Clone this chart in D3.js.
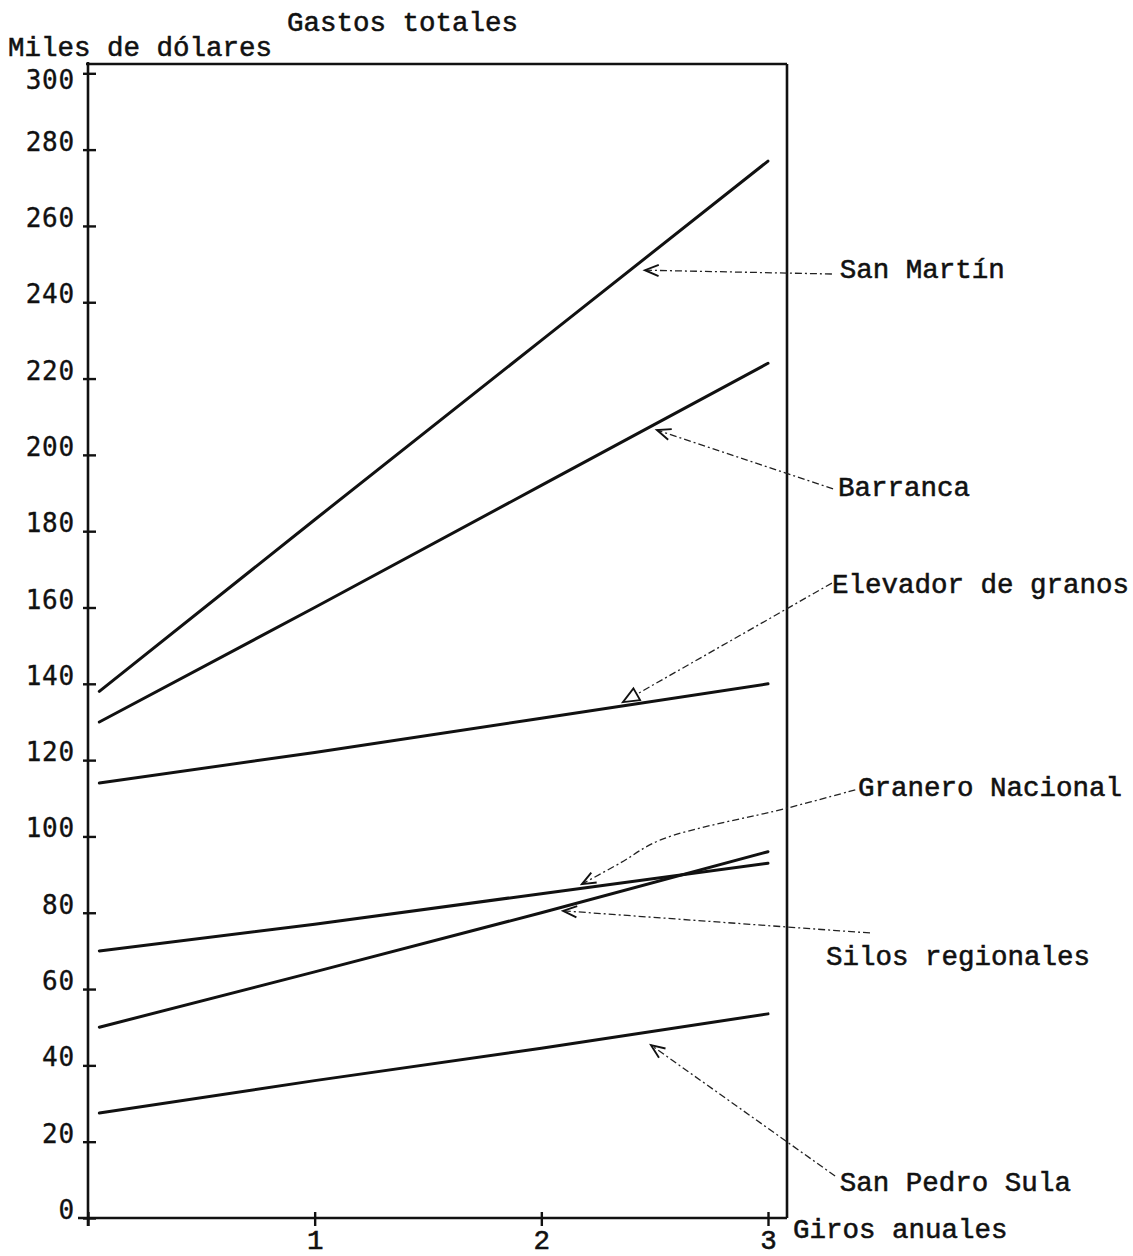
<!DOCTYPE html>
<html>
<head>
<meta charset="utf-8">
<script src="https://cdn.jsdelivr.net/npm/d3@7"></script>
<style>
  body { margin: 0; background: #fff; }
  svg { display: block; background: #fff; }
  text { font-family: "Liberation Mono", "DejaVu Sans Mono", monospace; fill: #111; stroke: #111; stroke-width: 0.55px; }
</style>
</head>
<body>
<svg id="chart" width="1133" height="1256"></svg>
<script>
// ---------------- DATA ----------------
const giros = [0.05, 1, 2, 3];                 // x positions of the readings (Giros anuales)
const sanMartin = [138, 183, 230, 277];         // thousand dollars
const barranca  = [130, 160, 192, 224];
const elevador  = [114, 122, 131, 140];
const granero   = [70, 77, 85, 93];
const silos     = [50, 64.5, 80, 96];
const sanPedro  = [27.5, 36, 44.5, 53.5];
const seriesNames = ["San Martín", "Barranca", "Elevador de granos", "Granero Nacional", "Silos regionales", "San Pedro Sula"];
const seriesValues = [sanMartin, barranca, elevador, granero, silos, sanPedro];
const yTicks = [0, 20, 40, 60, 80, 100, 120, 140, 160, 180, 200, 220, 240, 260, 280, 300];
const xTicks = [0, 1, 2, 3];
const xTickLabels = ["", "1", "2", "3"];
const titleText = "Gastos totales";
const yTitle = "Miles de dólares";
const xTitle = "Giros anuales";

// annotation leaders in data units: [giros, value] from label to arrow tip
const leaderSanMartin = [[3.282, 247.4], [2.457, 248.4]];
const leaderBarranca  = [[3.287, 191.1], [2.510, 206.5]];
const leaderElevador  = [[3.282, 166.4], [2.360, 135.2]];
const leaderGranero   = [[3.385, 112.2], [3.090, 107.5], [2.526, 99.1], [2.350, 93.1], [2.179, 87.5]];
const leaderSilos     = [[3.450, 74.7], [2.096, 80.5]];
const leaderSanPedro  = [[3.296, 11.0], [2.484, 45.3]];
const leaders = [leaderSanMartin, leaderBarranca, leaderElevador, leaderGranero, leaderSilos, leaderSanPedro];
const arrowKinds = ["chevron", "chevron", "triangle", "chevron", "chevron", "chevron"];
// label anchors [giros, value] (left edge, baseline)
const labelAnchors = [[3.317, 246.3], [3.309, 189.2], [3.282, 163.8], [3.397, 110.6], [3.256, 66.3], [3.317, 7.1]];

// ---------------- LAYOUT ----------------
const svg = d3.select("#chart");
const x = d3.scaleLinear().domain([0, 3]).range([88, 768]);
const y = d3.scaleLinear().domain([0, 300]).range([1218, 73.3]);
const frameTop = 64, frameRight = 787;
const FS = 27.5;

const defs = svg.append("defs");
defs.append("marker").attr("id", "chevron")
  .attr("markerUnits", "userSpaceOnUse").attr("markerWidth", 20).attr("markerHeight", 20)
  .attr("viewBox", "-14 -8 16 16").attr("refX", 0).attr("refY", 0).attr("orient", "auto")
  .append("path").attr("d", "M-11,-4.5 L0,0 L-11,4.5").attr("fill", "none")
  .attr("stroke", "#111").attr("stroke-width", 1.5);
defs.append("marker").attr("id", "triangle")
  .attr("markerUnits", "userSpaceOnUse").attr("markerWidth", 22).attr("markerHeight", 22)
  .attr("viewBox", "-16 -9 18 18").attr("refX", 0).attr("refY", 0).attr("orient", "auto")
  .append("path").attr("d", "M-13,-5.5 L0,0 L-13,5.5 Z").attr("fill", "#fff")
  .attr("stroke", "#111").attr("stroke-width", 1.5);

// frame / axes lines
const frame = svg.append("g").attr("stroke", "#111").attr("stroke-width", 2.6).attr("fill", "none");
frame.append("line").attr("x1", x(0)).attr("x2", x(0)).attr("y1", frameTop - 2).attr("y2", y(0) + 8);
frame.append("line").attr("x1", x(0) - 2).attr("x2", frameRight).attr("y1", frameTop).attr("y2", frameTop);
frame.append("line").attr("x1", frameRight).attr("x2", frameRight).attr("y1", frameTop).attr("y2", y(0));
frame.append("line").attr("x1", x(0) - 10).attr("x2", frameRight).attr("y1", y(0)).attr("y2", y(0));

// y axis: labels + small crossing ticks
const yAxisL = d3.axisLeft(y).tickValues(yTicks).tickSize(5).tickPadding(8).tickFormat(d3.format("d"));
const yAxisR = d3.axisRight(y).tickValues(yTicks).tickSize(8).tickFormat("");
const gyL = svg.append("g").attr("transform", `translate(${x(0)},0)`).call(yAxisL);
const gyR = svg.append("g").attr("transform", `translate(${x(0)},0)`).call(yAxisR);
[gyL, gyR].forEach(g => {
  g.select(".domain").remove();
  g.selectAll(".tick line").attr("stroke", "#111").attr("stroke-width", 2.4);
});
gyL.selectAll(".tick text")
  .style("font-family", "'DejaVu Sans Mono', monospace")
  .style("font-size", "26px").style("letter-spacing", "0.8px")
  .style("stroke-width", "0.35px")
  .attr("dy", d => d === 300 ? "0.6em" : "0.02em");

// x axis: crossing ticks + labels
const xAxisB = d3.axisBottom(x).tickValues(xTicks).tickSize(8).tickPadding(14)
  .tickFormat((d, i) => xTickLabels[i]);
const xAxisT = d3.axisTop(x).tickValues(xTicks).tickSize(6).tickFormat("");
const gxB = svg.append("g").attr("transform", `translate(0,${y(0)})`).call(xAxisB);
const gxT = svg.append("g").attr("transform", `translate(0,${y(0)})`).call(xAxisT);
[gxB, gxT].forEach(g => {
  g.select(".domain").remove();
  g.selectAll(".tick line").attr("stroke", "#111").attr("stroke-width", 2.4);
});
gxB.selectAll(".tick text").style("font-size", FS + "px").attr("y", 31).attr("dy", "0");

// data lines
const line = d3.line().x((d, i) => x(giros[i])).y(d => y(d));
svg.append("g").selectAll("path.series").data(seriesValues).join("path")
  .attr("class", "series")
  .attr("d", d => line(d))
  .attr("fill", "none").attr("stroke", "#111").attr("stroke-width", 3)
  .attr("stroke-linecap", "round");

// leaders
const leaderLine = d3.line().x(d => x(d[0])).y(d => y(d[1])).curve(d3.curveCatmullRom.alpha(0.5));
svg.append("g").selectAll("path.leader").data(leaders).join("path")
  .attr("class", "leader")
  .attr("d", d => leaderLine(d))
  .attr("fill", "none").attr("stroke", "#222").attr("stroke-width", 1.3)
  .attr("stroke-dasharray", "7,3,2,3")
  .attr("marker-end", (d, i) => `url(#${arrowKinds[i]})`);

// series labels
svg.append("g").selectAll("text.lbl").data(seriesNames).join("text")
  .attr("class", "lbl")
  .attr("x", (d, i) => x(labelAnchors[i][0]))
  .attr("y", (d, i) => y(labelAnchors[i][1]))
  .style("font-size", FS + "px")
  .text(d => d);

// titles
svg.append("text").attr("x", 287).attr("y", 31).style("font-size", FS + "px").text(titleText);
svg.append("text").attr("x", 8).attr("y", 56).style("font-size", FS + "px").text(yTitle);
svg.append("text").attr("x", 793).attr("y", 1238).style("font-size", FS + "px").text(xTitle);
</script>
</body>
</html>
